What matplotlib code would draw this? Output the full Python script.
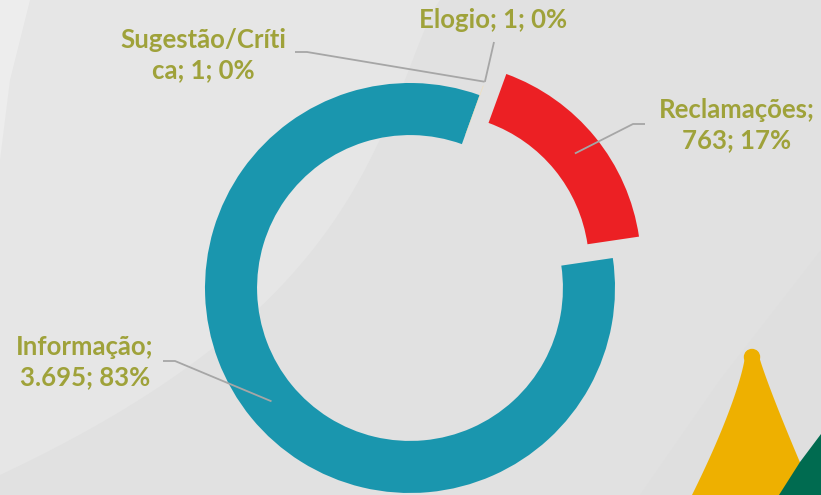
import numpy as np
import matplotlib
matplotlib.use("Agg")
import matplotlib.pyplot as plt
from matplotlib.patches import Polygon

# ---- data ----
categories = ["Reclamações", "Informação", "Sugestão/Crítica", "Elogio"]
values = [763, 3695, 1, 1]
value_labels = ["763", "3.695", "1", "1"]
pct_labels = ["17%", "83%", "0%", "0%"]
label_texts = ["Reclamações;\n763; 17%", "Informação;\n3.695; 83%",
               "Sugestão/Críti\nca; 1; 0%", "Elogio; 1; 0%"]
colors = ["#ec2024", "#1a96ae", "#f3d9a8", "#f5e3b8"]

W, H = 821, 495
fig = plt.figure(figsize=(W / 100, H / 100), dpi=100)
fig.patch.set_facecolor("#e1e1e1")
ax = fig.add_axes([0, 0, 1, 1])
cx, cy, R = 410, 288, 205


def P(px, py):
    return ((px - cx) / R, (cy - py) / R)


# ---- background decoration ----
s = np.linspace(0, 1, 60)
edge = [P(440 - 140 * ss ** 0.8 - 300 * ss ** 3, 475 * ss) for ss in s]
lv = [P(0, 0)] + edge + [P(0, 475)]
ax.add_patch(Polygon(lv, closed=True, facecolor="#e6e6e6", edgecolor="none", zorder=0))
ax.add_patch(Polygon([P(0, 0), P(30, 0), P(10, 80), P(0, 160)], closed=True,
                     facecolor="#ededed", edgecolor="none", zorder=0))
ax.add_patch(Polygon([P(821, 250), P(821, 495), P(640, 495), P(720, 380)], closed=True,
                     facecolor="#dfdfdf", edgecolor="none", zorder=0))

# yellow shape
t = np.linspace(0, 1, 40)
left = [P(745 - 53 * tt ** 1.3, 356 + 139 * tt) for tt in t]
right = [P(759 + 55 * tt ** 1.1, 356 + 139 * tt) for tt in t[::-1]]
ax.add_patch(Polygon(left + right, closed=True, facecolor="#eeb000", edgecolor="none", zorder=1))
ax.add_patch(plt.Circle(P(752, 357), 7.5 / R, color="#eeb000", zorder=1))
# green shape
ax.add_patch(Polygon([P(821, 434), P(800, 462), P(779, 495), P(821, 495)], closed=True,
                     facecolor="#006b50", edgecolor="none", zorder=1))

# ---- donut ----
explode = [0.165, 0.0, 0.05, 0.05]
wedges, _ = ax.pie(values, colors=colors, startangle=70, counterclock=False,
                   explode=explode, radius=1.0,
                   wedgeprops=dict(width=0.254, edgecolor="none", linewidth=0))
for w in wedges:
    w.set_zorder(2)
ax.set_xlim(-cx / R, (W - cx) / R)
ax.set_ylim((cy - H) / R, cy / R)
ax.set_aspect("auto")
ax.axis("off")

# ---- labels with leader lines ----
lab_col = "#9fa23a"
line_col = "#a6a6a6"
label_pos = [(737, 125), (85, 362), (203, 55), (493, 20)]
elbows = [[(645, 124), (633, 124)],
          [(163, 361), (175, 361)],
          [(295, 52), (307, 52)],
          [(494, 42)]]
anchor_r = [0.873, 0.873, 1.02, 1.02]

for w, txt, lp, el, ar in zip(wedges, label_texts, label_pos, elbows, anchor_r):
    mid = np.deg2rad((w.theta1 + w.theta2) / 2)
    ccx, ccy = w.center
    ax_pt = (ccx + ar * np.cos(mid), ccy + ar * np.sin(mid))
    pts = [P(*e) for e in el] + [ax_pt]
    xs, ys = zip(*pts)
    ax.plot(xs, ys, color=line_col, lw=1.3, zorder=3, solid_capstyle="butt")
    ax.text(*P(*lp), txt, ha="center", va="center", color=lab_col,
            fontsize=18.5, fontweight="bold", family=["Lato", "DejaVu Sans"],
            linespacing=1.32, zorder=4)

fig.savefig("out.png", dpi=100, facecolor=fig.get_facecolor())
